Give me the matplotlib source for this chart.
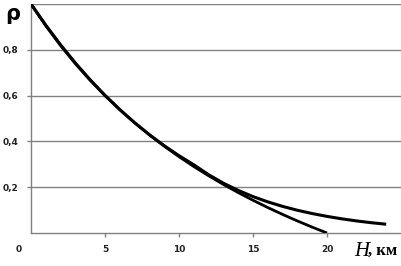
import matplotlib.pyplot as plt

# ISA relative air density vs altitude (km)
h_isa = list(range(0, 25))
rho_isa = [1.000, 0.9075, 0.8217, 0.7423, 0.6689, 0.6012, 0.5389, 0.4817, 0.4292,
           0.3813, 0.3376, 0.2978, 0.2546, 0.2176, 0.1860, 0.1590, 0.1359, 0.1162,
           0.0993, 0.0849, 0.0726, 0.0618, 0.0527, 0.0449, 0.0383]

# approximation rho = (20 - H) / (20 + H)
h_apx = list(range(0, 21))
rho_apx = [1.0, 0.9048, 0.8182, 0.7391, 0.6667, 0.6, 0.5385, 0.4815, 0.4286, 0.3793,
           0.3333, 0.2903, 0.25, 0.2121, 0.1765, 0.1429, 0.1111, 0.0811, 0.0526,
           0.0256, 0.0]

x_ticks = [5, 10, 15, 20]
y_ticks = [0.2, 0.4, 0.6, 0.8]
y_labels = ["0,2", "0,4", "0,6", "0,8"]

fig = plt.figure(figsize=(4.01, 2.66), dpi=100)
ax = fig.add_axes([31 / 401, 1 - 233 / 266, 370 / 401, 229 / 266])

for y in [0.2, 0.4, 0.6, 0.8, 1.0]:
    ax.axhline(y, color="#808080", lw=1.0, zorder=1)

ax.plot(h_apx, rho_apx, color="black", lw=2.0, zorder=3, solid_capstyle="butt")
ax.plot(h_isa, rho_isa, color="black", lw=2.2, zorder=3, solid_capstyle="butt")

ax.set_xlim(0, 25)
ax.set_ylim(0, 1.0)
ax.set_xticks(x_ticks)
ax.set_xticklabels([str(v) for v in x_ticks])
ax.set_yticks(y_ticks)
ax.set_yticklabels(y_labels)

for s in ["top", "right"]:
    ax.spines[s].set_visible(False)
for s in ["left", "bottom"]:
    ax.spines[s].set_color("#808080")
    ax.spines[s].set_linewidth(1.0)

ax.tick_params(axis="both", length=3, width=1, color="#808080",
               labelsize=6.5, labelcolor="#222222", pad=6)
for lab in ax.get_xticklabels() + ax.get_yticklabels():
    lab.set_fontweight("bold")

ax.text(-12 / 370 * 25, -0.073, "0", ha="center", va="center", fontsize=6.5,
        fontweight="bold", color="#222222", clip_on=False)

fig.text(13 / 401, 1 - 14 / 266, "ρ", ha="center", va="center", fontsize=15,
         fontweight="bold", family="DejaVu Sans")
fig.text(354 / 401, 1 - 251 / 266, "H", ha="left", va="center",
         fontsize=15, family="Liberation Serif", style="italic")
fig.text(368 / 401, 1 - 251 / 266, ", км", ha="left", va="center", fontsize=12,
         family="Liberation Serif", fontweight="bold")

fig.savefig("out.png", dpi=100)
